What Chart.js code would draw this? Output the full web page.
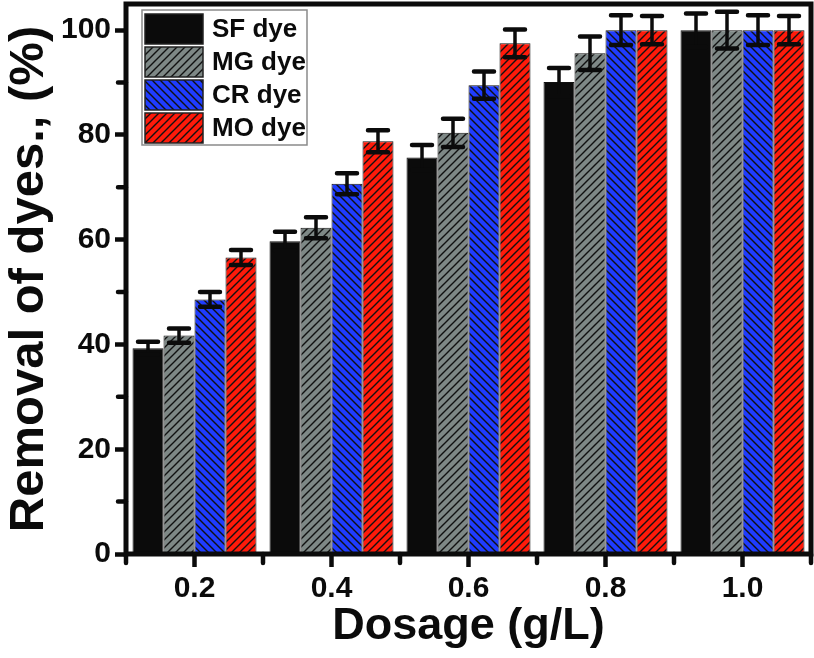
<!DOCTYPE html>
<html>
<head>
<meta charset="utf-8">
<script src="https://cdn.jsdelivr.net/npm/chart.js@4.4.1/dist/chart.umd.min.js"></script>
<style>
  body { margin: 0; background: #ffffff; }
  #wrap { width: 814px; height: 658px; }
</style>
</head>
<body>
<div id="wrap"><canvas id="barChart" width="814" height="658"></canvas></div>
<script>
// dosage groups and measured removal (%) per dye, with error values
const dosages = ["0.2", "0.4", "0.6", "0.8", "1.0"];
const dyeNames = ["SF dye", "MG dye", "CR dye", "MO dye"];

const sfValues = [39.3, 59.7, 75.7, 90.1, 100];
const mgValues = [41.7, 62.3, 80.4, 95.6, 100];
const crValues = [48.6, 70.7, 89.5, 100, 100];
const moValues = [56.6, 78.8, 97.5, 100, 100];

const sfErrors = [1.2, 1.8, 2.4, 2.7, 3.2];
const mgErrors = [1.35, 2.0, 2.7, 3.2, 3.5];
const crErrors = [1.4, 2.0, 2.6, 2.85, 2.85];
const moErrors = [1.45, 2.1, 2.65, 2.7, 2.7];

const yTicks = [0, 20, 40, 60, 80, 100];
const yMinorTicks = [10, 30, 50, 70, 90];

const FONT = "'Liberation Sans', Arial, sans-serif";

// diagonal hatch fill, dir 1 = "/" , dir -1 = "\"
function makeHatch(bg, dir) {
  const s = 8;
  const c = document.createElement("canvas");
  c.width = s;
  c.height = s;
  const g = c.getContext("2d");
  g.fillStyle = bg;
  g.fillRect(0, 0, s, s);
  g.strokeStyle = "#111111";
  g.lineWidth = 1.4;
  g.beginPath();
  if (dir > 0) {
    g.moveTo(-1, s + 1); g.lineTo(s + 1, -1);
    g.moveTo(-1, 1); g.lineTo(1, -1);
    g.moveTo(s - 1, s + 1); g.lineTo(s + 1, s - 1);
  } else {
    g.moveTo(-1, -1); g.lineTo(s + 1, s + 1);
    g.moveTo(s - 1, -1); g.lineTo(s + 1, 1);
    g.moveTo(-1, s - 1); g.lineTo(1, s + 1);
  }
  g.stroke();
  return document.getElementById("barChart").getContext("2d").createPattern(c, "repeat");
}

const fills = [
  "#0b0b0b",
  makeHatch("#7e8886", 1),
  makeHatch("#1f3cff", -1),
  makeHatch("#ff1a0a", 1),
];

const allValues = [sfValues, mgValues, crValues, moValues];
const allErrors = [sfErrors, mgErrors, crErrors, moErrors];

const datasets = dyeNames.map((name, i) => ({
  label: name,
  data: allValues[i],
  errors: allErrors[i],
  backgroundColor: fills[i],
  borderColor: "#111111",
  borderWidth: 1,
  borderSkipped: false,
  categoryPercentage: 0.905,
  barPercentage: 1.0,
}));

// frame, minor ticks, error bars and the legend box
const extras = {
  id: "extras",
  afterDatasetsDraw(chart) {
    const ctx = chart.ctx;
    const y = chart.scales.y;
    ctx.save();
    ctx.strokeStyle = "#0b0b0b";
    ctx.lineCap = "butt";
    chart.data.datasets.forEach((ds, i) => {
      const meta = chart.getDatasetMeta(i);
      meta.data.forEach((bar, j) => {
        const v = ds.data[j];
        const e = ds.errors[j];
        const top = y.getPixelForValue(v + e);
        const bot = y.getPixelForValue(v - e);
        ctx.lineWidth = 3.5;
        ctx.beginPath();
        ctx.moveTo(bar.x, top);
        ctx.lineTo(bar.x, bot);
        ctx.stroke();
        ctx.lineWidth = 4.5;
        ctx.lineCap = "round";
        ctx.beginPath();
        ctx.moveTo(bar.x - 10, top);
        ctx.lineTo(bar.x + 10, top);
        ctx.moveTo(bar.x - 10, bot);
        ctx.lineTo(bar.x + 10, bot);
        ctx.stroke();
        ctx.lineCap = "butt";
      });
    });
    ctx.restore();
  },
  afterDraw(chart) {
    const ctx = chart.ctx;
    const a = chart.chartArea;
    const y = chart.scales.y;
    ctx.save();
    ctx.strokeStyle = "#0b0b0b";
    ctx.lineWidth = 5;
    ctx.strokeRect(a.left, a.top, a.right - a.left, a.bottom - a.top);

    // minor ticks
    ctx.lineWidth = 4.5;
    ctx.lineCap = "round";
    ctx.beginPath();
    yMinorTicks.forEach((v) => {
      const py = y.getPixelForValue(v);
      ctx.moveTo(a.left, py);
      ctx.lineTo(a.left - 8, py);
    });
    const step = (a.right - a.left) / dosages.length;
    for (let k = 0; k <= dosages.length; k++) {
      const px = a.left + k * step;
      ctx.moveTo(px, a.bottom);
      ctx.lineTo(px, a.bottom + 9);
    }
    ctx.stroke();

    // legend
    const lx = 142, ly = 10, lw = 165, lh = 135;
    ctx.fillStyle = "#ffffff";
    ctx.fillRect(lx, ly, lw, lh);
    ctx.strokeStyle = "#8a8a8a";
    ctx.lineWidth = 1.5;
    ctx.lineCap = "butt";
    ctx.strokeRect(lx, ly, lw, lh);
    ctx.font = "bold 26px " + FONT;
    ctx.textBaseline = "middle";
    chart.data.datasets.forEach((ds, i) => {
      const ry = ly + 4 + i * 33;
      ctx.fillStyle = ds.backgroundColor;
      ctx.fillRect(lx + 3, ry, 58, 30);
      ctx.strokeStyle = "#222222";
      ctx.lineWidth = 1.5;
      ctx.strokeRect(lx + 3, ry, 58, 30);
      ctx.fillStyle = "#0b0b0b";
      ctx.fillText(ds.label, lx + 70, ry + 16);
    });
    ctx.restore();
  },
};

const chart = new Chart(document.getElementById("barChart"), {
  type: "bar",
  data: { labels: dosages, datasets: datasets },
  options: {
    responsive: false,
    animation: false,
    layout: { autoPadding: false, padding: { top: 4, right: 3, left: 0, bottom: 0 } },
    plugins: {
      legend: { display: false },
      tooltip: { enabled: false },
    },
    scales: {
      x: {
        offset: true,
        border: { display: false },
        grid: {
          offset: false,
          drawOnChartArea: false,
          drawTicks: true,
          tickLength: 13,
          tickWidth: 4.5,
          tickColor: "#0b0b0b",
        },
        ticks: {
          color: "#0b0b0b",
          padding: 4,
          font: { family: FONT, size: 30, weight: "bold" },
        },
        title: {
          display: true,
          text: "Dosage (g/L)",
          color: "#0b0b0b",
          padding: { top: 0, bottom: 4 },
          font: { family: FONT, size: 45, weight: "bold" },
        },
        afterFit(scale) {
          scale.height = 104;
          scale.paddingLeft = 0;
          scale.paddingRight = 0;
        },
      },
      y: {
        min: 0,
        max: 105,
        border: { display: false },
        grid: {
          drawOnChartArea: false,
          drawTicks: true,
          tickLength: 11,
          tickWidth: 4.5,
          tickColor: "#0b0b0b",
        },
        afterBuildTicks(scale) {
          scale.ticks = yTicks.map((v) => ({ value: v }));
        },
        ticks: {
          color: "#0b0b0b",
          padding: 4,
          font: { family: FONT, size: 30, weight: "bold" },
        },
        title: {
          display: true,
          text: "Removal of dyes., (%)",
          color: "#0b0b0b",
          padding: { top: 0, bottom: 0 },
          font: { family: FONT, size: 49, weight: "bold" },
        },
        afterFit(scale) {
          scale.width = 126;
          scale.paddingTop = 0;
          scale.paddingBottom = 0;
        },
      },
    },
  },
  plugins: [extras],
});
</script>
</body>
</html>
